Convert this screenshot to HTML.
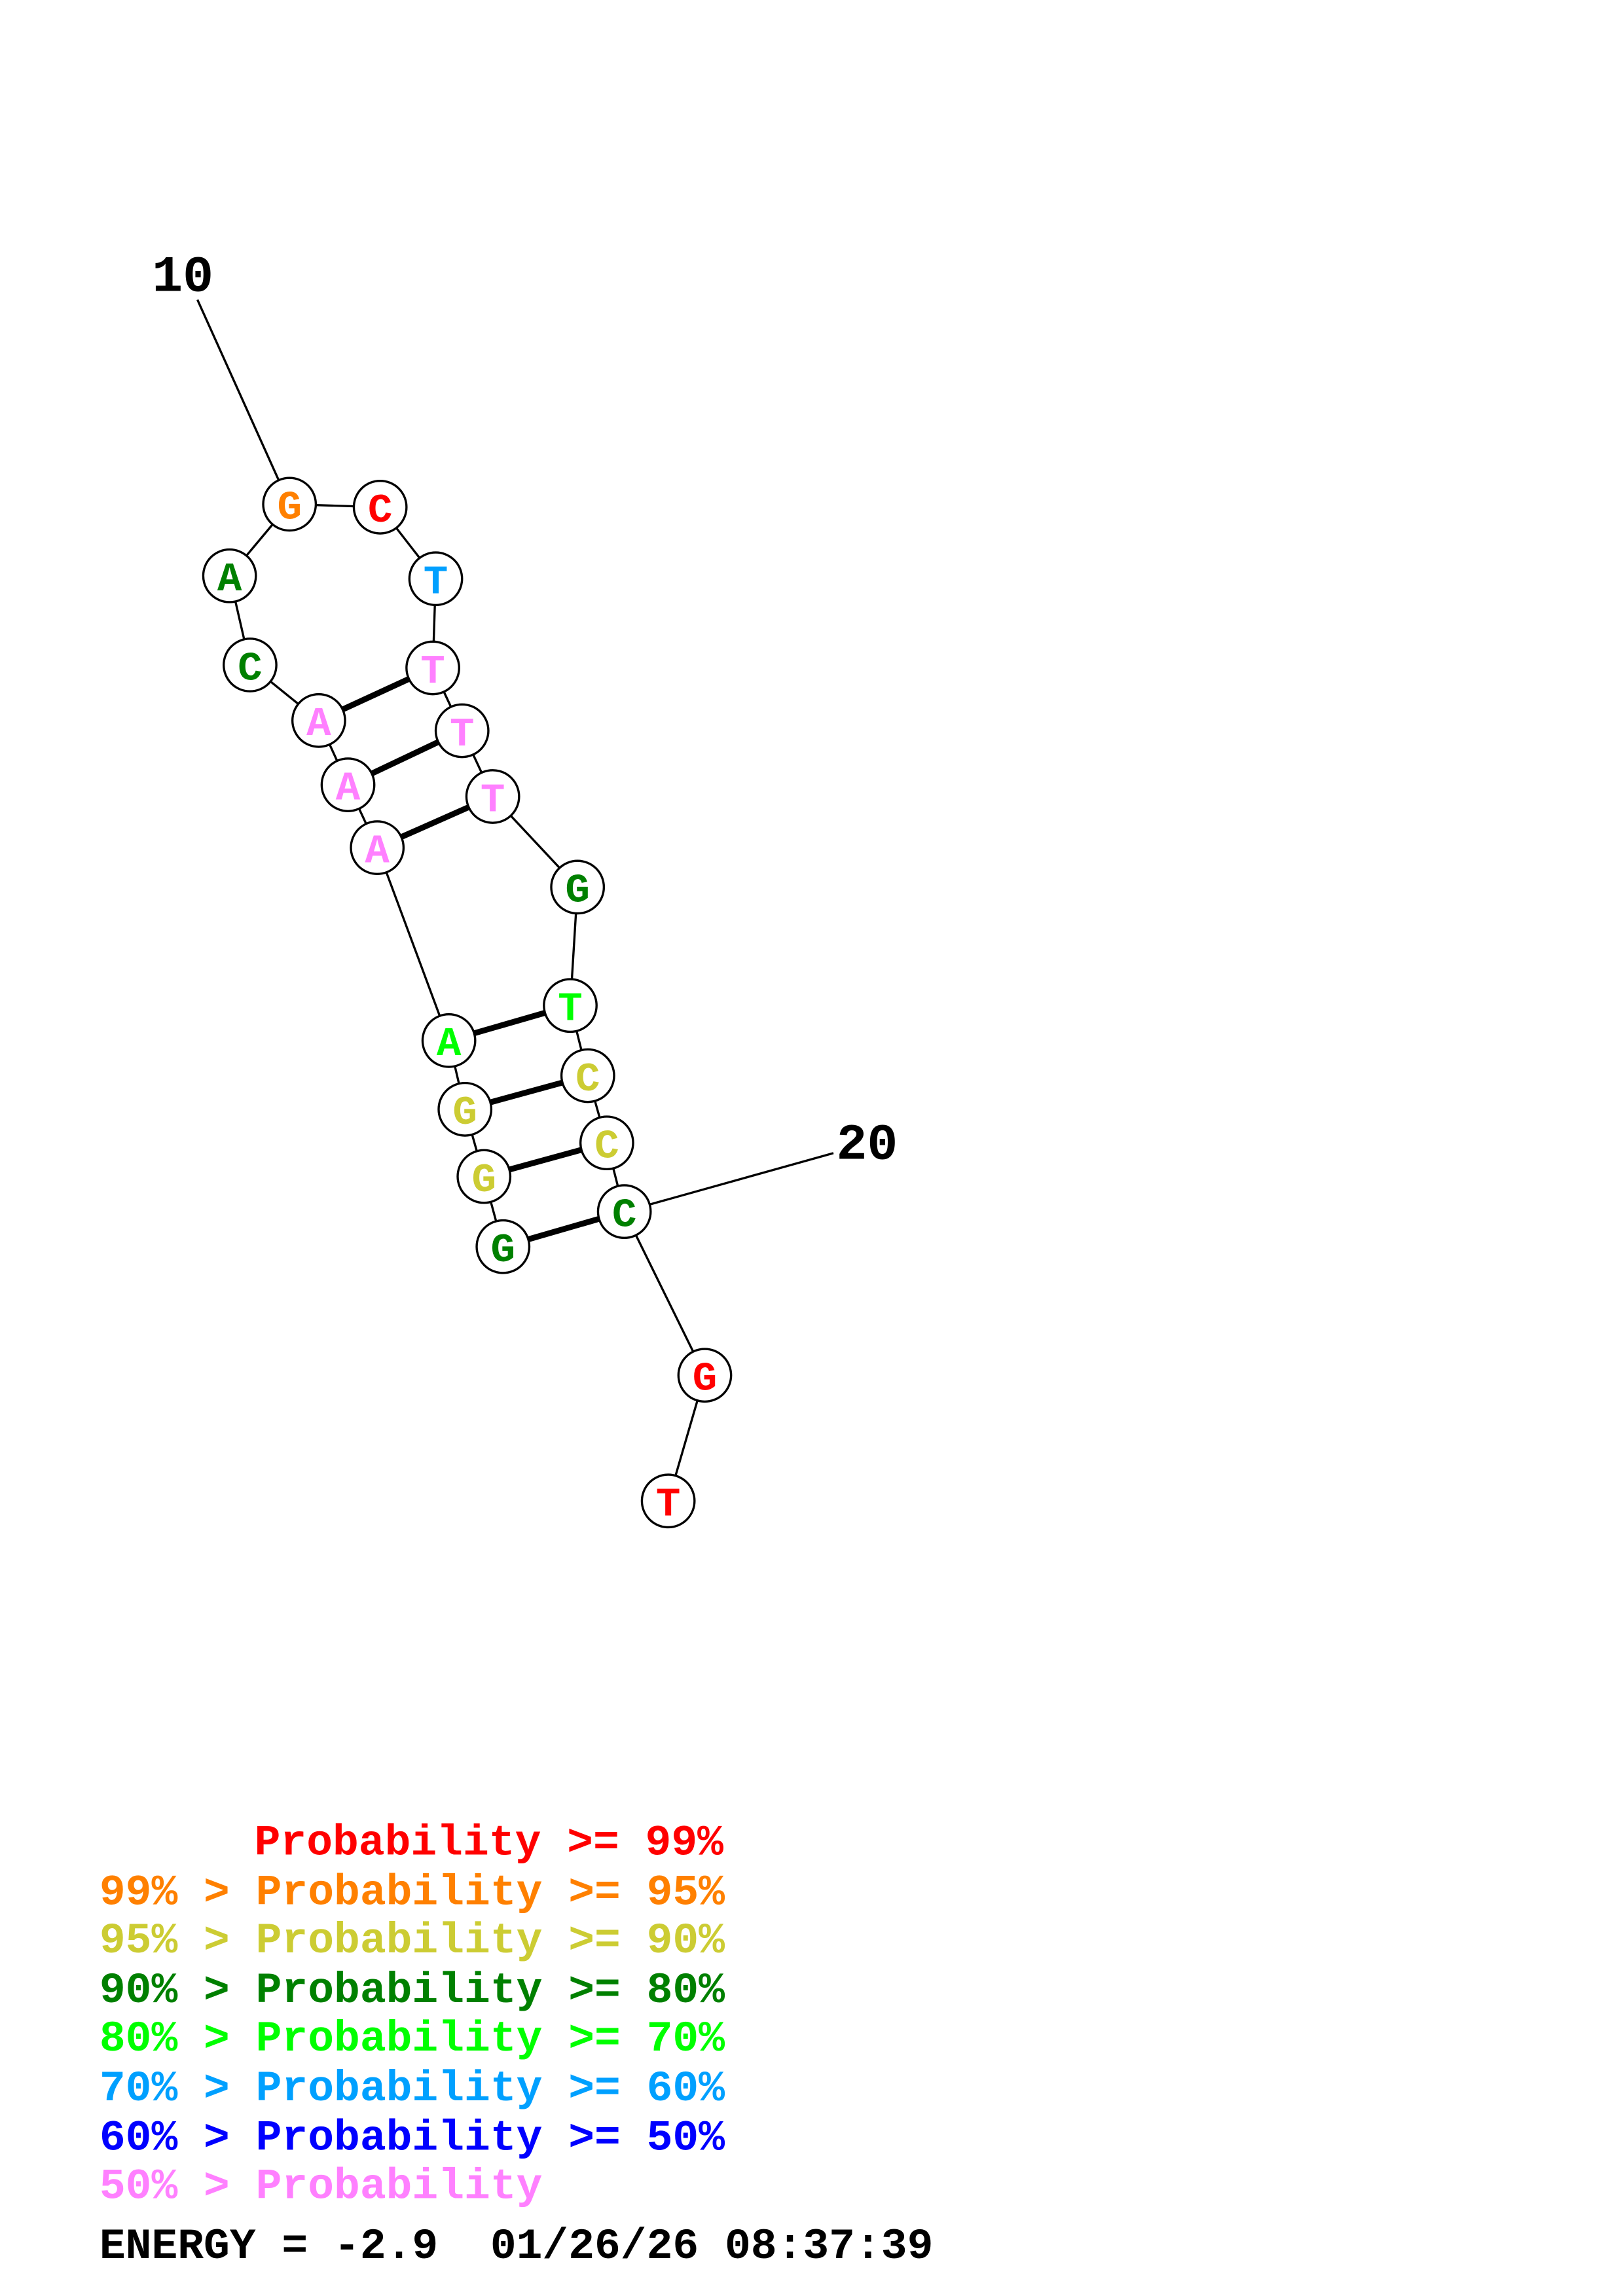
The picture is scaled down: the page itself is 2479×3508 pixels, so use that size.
<!DOCTYPE html>
<html><head><meta charset="utf-8"><style>
html,body{margin:0;padding:0;background:#fff;}
svg{display:block;}
text{font-family:"Liberation Mono",monospace;font-weight:bold;}
</style></head><body>
<svg width="2479" height="3508" viewBox="0 0 1110 1571" preserveAspectRatio="none" xmlns="http://www.w3.org/2000/svg">
<rect width="1110" height="1571" fill="#fff"/>
<g stroke="#000" stroke-width="1.5" fill="none">
<line x1="135" y1="205" x2="198" y2="345"/>
<line x1="570" y1="789" x2="427" y2="829"/>
<polyline points="157,394 198,345 260,347 298,396 296,457 316,500 337,545 395,607 390,688 402,736 415,782 427,829 482,941 457,1027"/>
<polyline points="157,394 171,455 218,493 238,537 258,580 307,712 318,759 331,805 344,853"/>
</g>
<g stroke="#000" stroke-width="4">
<line x1="218" y1="493" x2="296" y2="457"/>
<line x1="238" y1="537" x2="316" y2="500"/>
<line x1="258" y1="580" x2="337" y2="545"/>
<line x1="307" y1="712" x2="390" y2="688"/>
<line x1="318" y1="759" x2="402" y2="736"/>
<line x1="331" y1="805" x2="415" y2="782"/>
<line x1="344" y1="853" x2="427" y2="829"/>
</g>
<g stroke="#000" stroke-width="1.5" fill="#fff">
<circle cx="198" cy="345" r="18"/><circle cx="260" cy="347" r="18"/><circle cx="298" cy="396" r="18"/>
<circle cx="296" cy="457" r="18"/><circle cx="316" cy="500" r="18"/><circle cx="337" cy="545" r="18"/>
<circle cx="395" cy="607" r="18"/><circle cx="390" cy="688" r="18"/><circle cx="402" cy="736" r="18"/>
<circle cx="415" cy="782" r="18"/><circle cx="427" cy="829" r="18"/><circle cx="482" cy="941" r="18"/>
<circle cx="457" cy="1027" r="18"/><circle cx="157" cy="394" r="18"/><circle cx="171" cy="455" r="18"/>
<circle cx="218" cy="493" r="18"/><circle cx="238" cy="537" r="18"/><circle cx="258" cy="580" r="18"/>
<circle cx="307" cy="712" r="18"/><circle cx="318" cy="759" r="18"/><circle cx="331" cy="805" r="18"/>
<circle cx="344" cy="853" r="18"/>
</g>
<g font-size="28" text-anchor="middle">
<text x="198" y="355" fill="#ff8000">G</text>
<text x="260" y="357" fill="#ff0000">C</text>
<text x="298" y="406" fill="#00a0ff">T</text>
<text x="296" y="467" fill="#ff80ff">T</text>
<text x="316" y="510" fill="#ff80ff">T</text>
<text x="337" y="555" fill="#ff80ff">T</text>
<text x="395" y="617" fill="#008000">G</text>
<text x="390" y="698" fill="#00ff00">T</text>
<text x="402" y="746" fill="#cccc33">C</text>
<text x="415" y="792" fill="#cccc33">C</text>
<text x="427" y="839" fill="#008000">C</text>
<text x="482" y="951" fill="#ff0000">G</text>
<text x="457" y="1037" fill="#ff0000">T</text>
<text x="157" y="404" fill="#008000">A</text>
<text x="171" y="465" fill="#008000">C</text>
<text x="218" y="503" fill="#ff80ff">A</text>
<text x="238" y="547" fill="#ff80ff">A</text>
<text x="258" y="590" fill="#ff80ff">A</text>
<text x="307" y="722" fill="#00ff00">A</text>
<text x="318" y="769" fill="#cccc33">G</text>
<text x="331" y="815" fill="#cccc33">G</text>
<text x="344" y="853" dy="10" fill="#008000">G</text>
</g>
<g font-size="29.7">
<text x="104" y="199" fill="#000" font-size="35">10</text>
<text x="572" y="793" fill="#000" font-size="35">20</text>
<text x="174" y="1269" fill="#ff0000" xml:space="preserve">Probability &gt;= 99%</text>
<text x="68" y="1303" fill="#ff8000" xml:space="preserve">99% &gt; Probability &gt;= 95%</text>
<text x="68" y="1336" fill="#cccc33" xml:space="preserve">95% &gt; Probability &gt;= 90%</text>
<text x="68" y="1370" fill="#008000" xml:space="preserve">90% &gt; Probability &gt;= 80%</text>
<text x="68" y="1403" fill="#00ff00" xml:space="preserve">80% &gt; Probability &gt;= 70%</text>
<text x="68" y="1437" fill="#00a0ff" xml:space="preserve">70% &gt; Probability &gt;= 60%</text>
<text x="68" y="1471" fill="#0000ff" xml:space="preserve">60% &gt; Probability &gt;= 50%</text>
<text x="68" y="1504" fill="#ff80ff" xml:space="preserve">50% &gt; Probability</text>
<text x="68" y="1545" fill="#000" xml:space="preserve">ENERGY = -2.9  01/26/26 08:37:39</text>
</g>
</svg>
</body></html>
